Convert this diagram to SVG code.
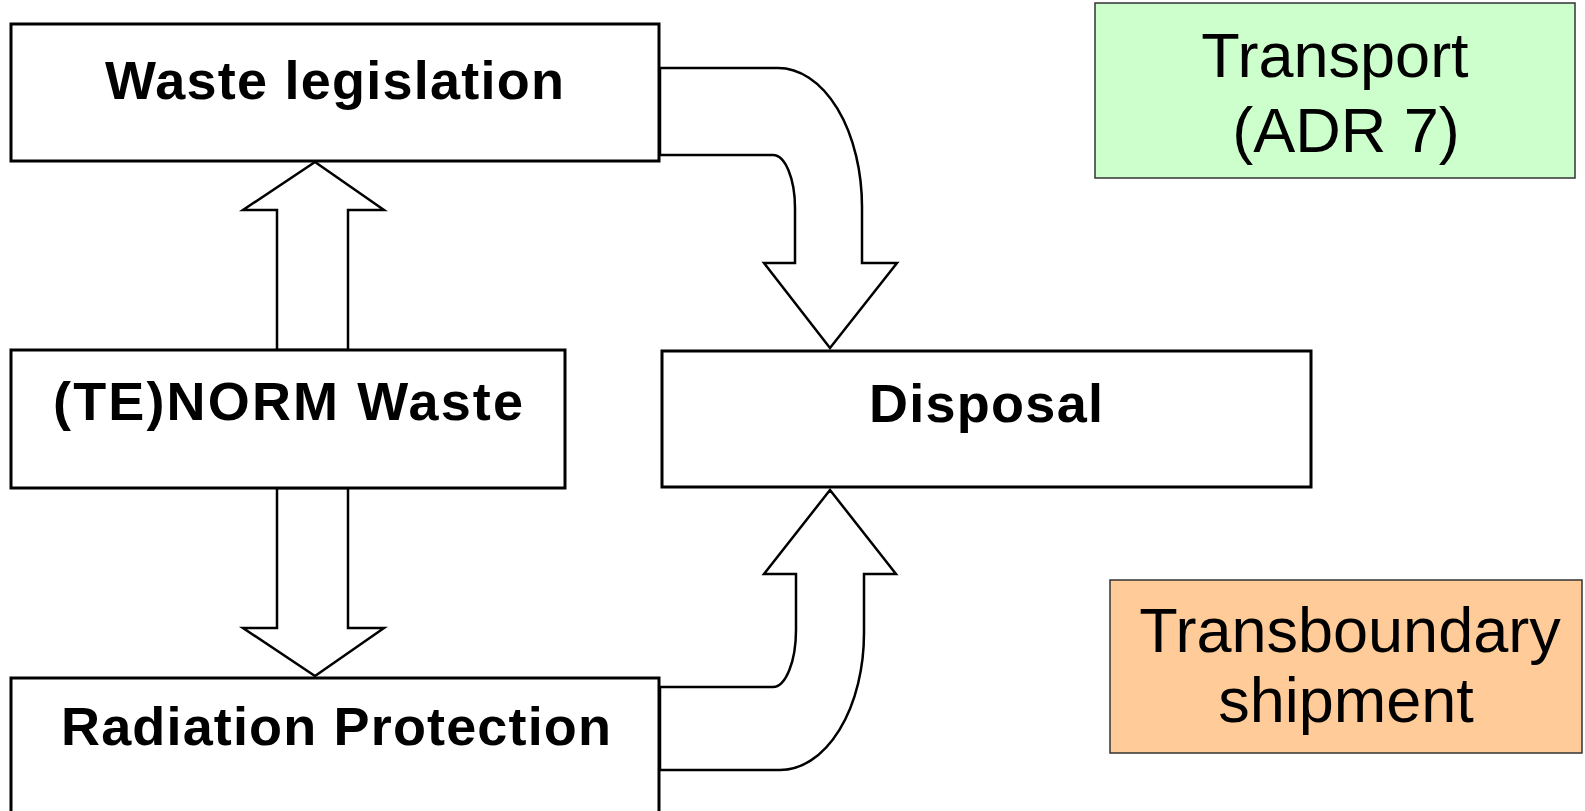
<svg xmlns="http://www.w3.org/2000/svg" width="1585" height="811" viewBox="0 0 1585 811">
<style>
.box{fill:#ffffff;stroke:#000000;stroke-width:3}
.arrow{fill:#ffffff;stroke:#000000;stroke-width:2.5;stroke-linejoin:miter}
.lbl{font-family:"Liberation Sans",Arial,sans-serif;font-weight:bold;font-size:54px;fill:#000000}
.big{font-family:"Liberation Sans",Arial,sans-serif;font-size:63px;fill:#000000;text-anchor:middle}
.note{stroke:#333333;stroke-width:1.5}
</style>
<rect x="0" y="0" width="1585" height="811" fill="#ffffff"/>
<g id="connectors">
<path class="arrow" d="M277,350 L277,210 L243,210 L315,162 L384,210 L348,210 L348,350 Z"/>
<path class="arrow" d="M277,488 L277,628 L243,628 L315,676 L384,628 L348,628 L348,488 Z"/>
<path class="arrow" d="M660,68 L778,68 A84,139 0 0 1 862,207 L862,263 L897,263 L830,348 L764,263 L795,263 L795,208 A22,53 0 0 0 773,155 L660,155 Z"/>
<path class="arrow" d="M660,687 L773,687 A23,57 0 0 0 796,630 L796,574 L764,574 L830,490 L896,574 L864,574 L864,633 A84,137 0 0 1 780,770 L660,770 Z"/>
</g>
<g id="waste-legislation">
<rect class="box" x="11" y="24" width="648" height="137"/>
<text class="lbl" x="105" y="99" textLength="459" lengthAdjust="spacing">Waste legislation</text>
</g>
<g id="tenorm-waste">
<rect class="box" x="11" y="350" width="554" height="138"/>
<text class="lbl" x="53" y="420" textLength="470" lengthAdjust="spacing">(TE)NORM Waste</text>
</g>
<g id="radiation-protection">
<rect class="box" x="11" y="678" width="648" height="160"/>
<text class="lbl" x="61" y="745" textLength="550" lengthAdjust="spacing">Radiation Protection</text>
</g>
<g id="disposal">
<rect class="box" x="662" y="351" width="649" height="136"/>
<text class="lbl" x="869" y="422" textLength="234" lengthAdjust="spacing">Disposal</text>
</g>
<g id="transport">
<rect class="note" x="1095" y="3" width="480" height="175" fill="#CCFFCC"/>
<text class="big" x="1335" y="77">Transport</text>
<text class="big" x="1346" y="152">(ADR 7)</text>
</g>
<g id="transboundary">
<rect class="note" x="1110" y="580" width="472" height="173" fill="#FFCC99"/>
<text class="big" x="1350" y="652">Transboundary</text>
<text class="big" x="1346" y="722">shipment</text>
</g>
</svg>
